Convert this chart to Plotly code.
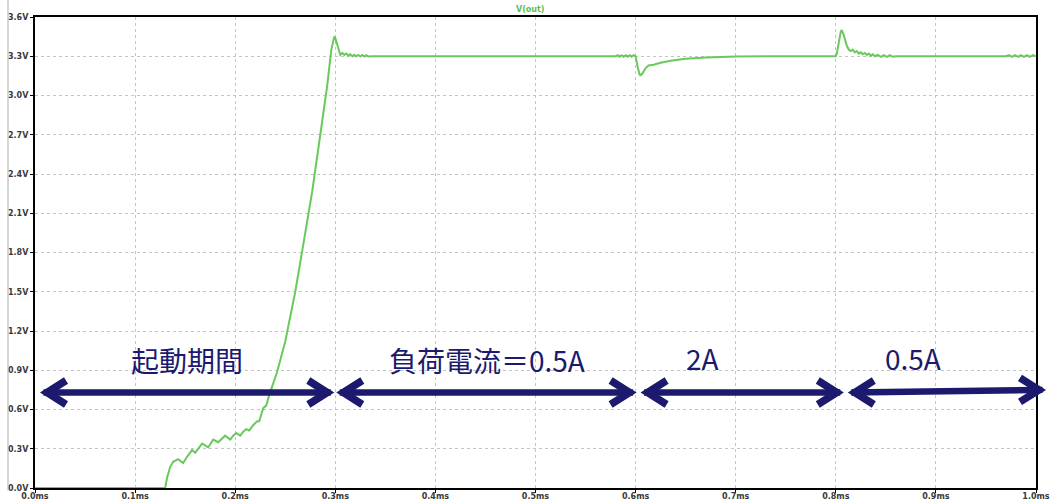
import plotly.graph_objects as go

# ---- data (time in ms, voltage in V) ----
time_ms = [0.000, 0.130, 0.132, 0.135, 0.138, 0.143, 0.148, 0.152, 0.157, 0.160,
           0.164, 0.167, 0.173, 0.176, 0.178, 0.183, 0.187, 0.190, 0.195, 0.198,
           0.201, 0.205, 0.208, 0.211, 0.214, 0.218, 0.222, 0.224, 0.228, 0.231,
           0.234, 0.242, 0.250, 0.260, 0.268, 0.277, 0.285, 0.292, 0.296, 0.299,
           0.300, 0.302, 0.304, 0.305, 0.307, 0.309, 0.311, 0.313, 0.315, 0.317,
           0.319, 0.321, 0.323, 0.325, 0.327, 0.329, 0.331, 0.333, 0.336, 0.580,
           0.582, 0.584, 0.586, 0.588, 0.590, 0.592, 0.594, 0.596, 0.598, 0.600,
           0.602, 0.604, 0.605, 0.607, 0.610, 0.613, 0.618, 0.625, 0.635, 0.650,
           0.670, 0.700, 0.750, 0.800, 0.801, 0.803, 0.805, 0.806, 0.808, 0.811,
           0.813, 0.815, 0.817, 0.819, 0.821, 0.823, 0.825, 0.827, 0.829, 0.831,
           0.833, 0.835, 0.837, 0.839, 0.842, 0.845, 0.848, 0.851, 0.854, 0.857,
           0.860, 0.970, 0.973, 0.976, 0.979, 0.982, 0.985, 0.988, 0.991, 0.994,
           0.997, 1.000]
v_out = [0.00, 0.00, 0.08, 0.16, 0.20, 0.22, 0.19, 0.24, 0.29, 0.27,
         0.31, 0.34, 0.31, 0.35, 0.37, 0.35, 0.38, 0.40, 0.37, 0.40,
         0.42, 0.40, 0.43, 0.45, 0.44, 0.48, 0.51, 0.51, 0.61, 0.63,
         0.71, 0.89, 1.12, 1.50, 1.86, 2.27, 2.70, 3.08, 3.35, 3.45,
         3.44, 3.39, 3.33, 3.31, 3.325, 3.31, 3.32, 3.305, 3.315, 3.30,
         3.312, 3.30, 3.31, 3.30, 3.31, 3.298, 3.308, 3.298, 3.30, 3.30,
         3.308, 3.296, 3.308, 3.296, 3.308, 3.296, 3.308, 3.296, 3.308, 3.30,
         3.22, 3.16, 3.155, 3.17, 3.21, 3.23, 3.235, 3.25, 3.265, 3.28,
         3.29, 3.298, 3.30, 3.30, 3.32, 3.42, 3.49, 3.50, 3.46, 3.38,
         3.35, 3.34, 3.35, 3.33, 3.34, 3.32, 3.33, 3.315, 3.325, 3.31,
         3.32, 3.305, 3.315, 3.30, 3.31, 3.296, 3.308, 3.296, 3.308, 3.296,
         3.30, 3.30, 3.308, 3.296, 3.308, 3.296, 3.308, 3.296, 3.308, 3.296,
         3.308, 3.30]

x_tick_vals = [0.0, 0.1, 0.2, 0.3, 0.4, 0.5, 0.6, 0.7, 0.8, 0.9, 1.0]
x_tick_text = ["0.0ms", "0.1ms", "0.2ms", "0.3ms", "0.4ms", "0.5ms",
               "0.6ms", "0.7ms", "0.8ms", "0.9ms", "1.0ms"]
y_tick_vals = [0.0, 0.3, 0.6, 0.9, 1.2, 1.5, 1.8, 2.1, 2.4, 2.7, 3.0, 3.3, 3.6]
y_tick_text = ["0.0V", "0.3V", "0.6V", "0.9V", "1.2V", "1.5V", "1.8V",
               "2.1V", "2.4V", "2.7V", "3.0V", "3.3V", "3.6V"]

# double arrows marking the periods: (t_start, v_start, t_end, v_end)
arrow_spans = [(0.005, 0.73, 0.299, 0.73),
               (0.301, 0.73, 0.601, 0.73),
               (0.605, 0.73, 0.808, 0.73),
               (0.812, 0.73, 1.010, 0.75)]
period_labels = ["起動期間", "負荷電流＝0.5A", "2A", "0.5A"]
label_t = [0.152, 0.452, 0.667, 0.877]
label_v = [0.98, 0.98, 0.99, 0.99]

# ---- figure ----
W, H = 1055, 503
ML, MR, MT, MB = 35, 19, 17, 15
PW, PH = W - ML - MR, H - MT - MB
XR, YR = (0.0, 1.0), (0.0, 3.6)
NAVY = "#1c1a6e"
GREEN = "#6ac95c"

fig = go.Figure()
fig.add_trace(go.Scatter(x=time_ms, y=v_out, mode="lines",
                         line=dict(color=GREEN, width=2), hoverinfo="skip",
                         showlegend=False))


def to_paper(t, v):
    return (t - XR[0]) / (XR[1] - XR[0]), (v - YR[0]) / (YR[1] - YR[0])


shapes = []
ARM_DX, ARM_DY, INSET = 26 / PW, 12 / PH, 7 / PW
for (t0, v0, t1, v1) in arrow_spans:
    x0, y0 = to_paper(t0, v0)
    x1, y1 = to_paper(t1, v1)
    # shaft
    shapes.append(dict(type="line", xref="paper", yref="paper",
                       x0=x0 + INSET * 0.5, y0=y0, x1=x1 - INSET * 0.5, y1=y1,
                       line=dict(color=NAVY, width=6.5)))
    # left chevron
    lx = x0 + INSET
    shapes.append(dict(type="path", xref="paper", yref="paper",
                       path=f"M {lx + ARM_DX - INSET},{y0 + ARM_DY} L {lx},{y0} L {lx + ARM_DX - INSET},{y0 - ARM_DY}",
                       line=dict(color=NAVY, width=7.5)))
    # right chevron
    rx = x1 - INSET
    shapes.append(dict(type="path", xref="paper", yref="paper",
                       path=f"M {rx - ARM_DX + INSET},{y1 + ARM_DY} L {rx},{y1} L {rx - ARM_DX + INSET},{y1 - ARM_DY}",
                       line=dict(color=NAVY, width=7.5)))

# thin window border line on the far left
shapes.append(dict(type="line", xref="paper", yref="paper",
                   x0=(8 - ML) / PW, x1=(8 - ML) / PW, y0=-0.005, y1=1.04,
                   line=dict(color="#b0b0b0", width=1)))

annotations = []
for txt, t, v in zip(period_labels, label_t, label_v):
    annotations.append(dict(x=t, y=v, xref="x", yref="y", text=txt,
                            showarrow=False, xanchor="center", yanchor="middle",
                            font=dict(family="Noto Sans CJK JP", size=28, color=NAVY)))
annotations.append(dict(x=(530 - ML) / PW, y=(H - MB - 9) / PH, xref="paper", yref="paper",
                        text="V(out)", showarrow=False, xanchor="center", yanchor="middle",
                        font=dict(family="DejaVu Sans", size=8, color="#5cc050", weight="bold")))

tickfont = dict(family="DejaVu Sans", size=8, color="#3a3a3a", weight="bold")
fig.update_layout(
    width=W, height=H,
    margin=dict(l=ML, r=MR, t=MT, b=MB, pad=0, autoexpand=False),
    paper_bgcolor="white", plot_bgcolor="white",
    shapes=shapes, annotations=annotations,
    xaxis=dict(range=list(XR), tickvals=x_tick_vals, ticktext=x_tick_text,
               showgrid=True, gridcolor="#c4c4c4", griddash="dot", gridwidth=1,
               showline=True, linecolor="black", linewidth=2, mirror=True,
               ticks="outside", ticklen=3, tickcolor="black", tickwidth=1,
               ticklabelstandoff=-4,
               tickfont=tickfont, zeroline=False, layer="below traces",
               automargin=False, fixedrange=True),
    yaxis=dict(range=list(YR), tickvals=y_tick_vals, ticktext=y_tick_text,
               showgrid=True, gridcolor="#c4c4c4", griddash="dot", gridwidth=1,
               showline=True, linecolor="black", linewidth=2, mirror=True,
               ticks="outside", ticklen=3, tickcolor="black", tickwidth=1,
               tickfont=tickfont, zeroline=False, layer="below traces",
               automargin=False, fixedrange=True),
)

fig.write_html("out.html", config={"displayModeBar": False},
               post_script="document.body.style.margin='0';document.body.style.overflow='hidden';")
